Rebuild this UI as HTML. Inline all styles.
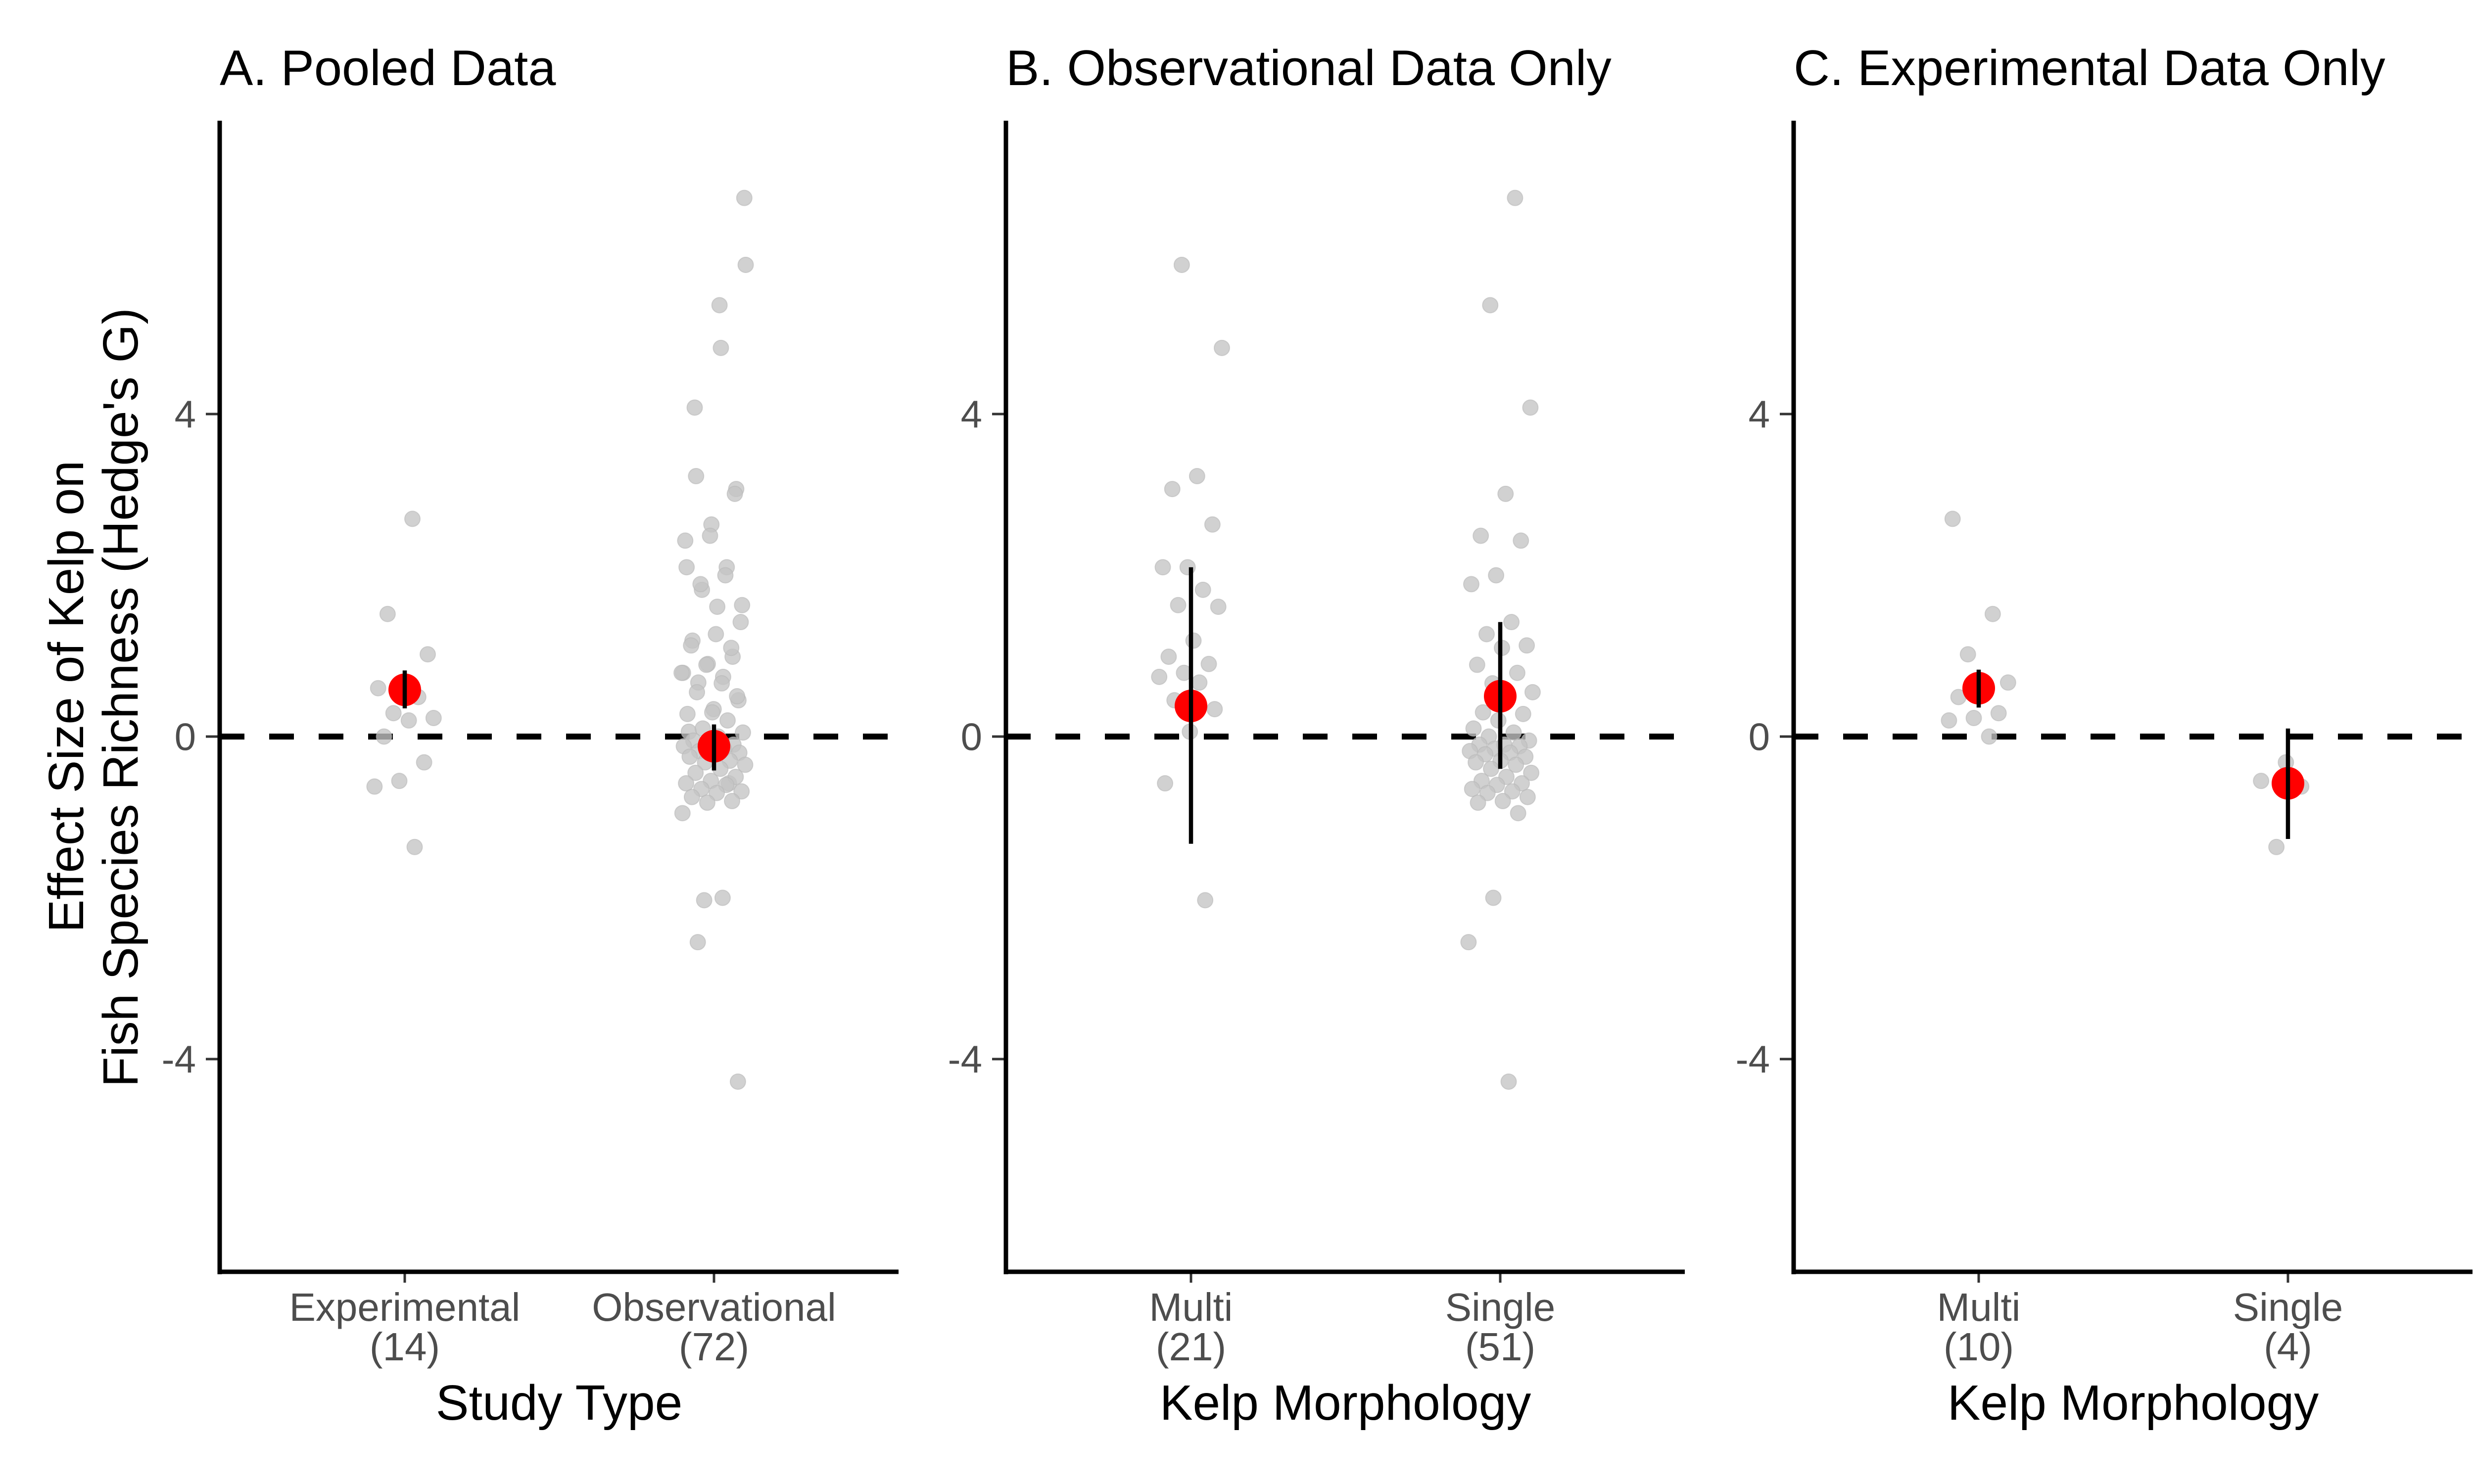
<!DOCTYPE html>
<html><head><meta charset="utf-8">
<style>
html,body{margin:0;padding:0;background:#fff;}
svg{display:block;font-family:"Liberation Sans",Arial,sans-serif;}
</style></head>
<body>
<svg id="chart" width="5100" height="3000" viewBox="0 0 5100 3000" xmlns="http://www.w3.org/2000/svg">
<rect x="0" y="0" width="5100" height="3000" fill="#fff"/>
</svg>
<script>
// ---- data ----
const panelTitles = ["A. Pooled Data", "B. Observational Data Only", "C. Experimental Data Only"];
const panelXTitles = ["Study Type", "Kelp Morphology", "Kelp Morphology"];
const panelCategories = [["Experimental", "Observational"], ["Multi", "Single"], ["Multi", "Single"]];
const panelCounts = [["(14)", "(72)"], ["(21)", "(51)"], ["(10)", "(4)"]];
const obsMulti = [5.85,4.82,3.23,3.07,2.63,2.10,2.10,1.82,1.63,1.61,1.19,0.99,0.90,0.79,0.74,0.67,0.45,0.34,0.06,-0.58,-2.03];
const obsSingle = [6.68,5.35,4.08,3.01,2.49,2.43,2.00,1.89,1.42,1.27,1.13,1.10,0.89,0.79,0.66,0.55,0.50,0.30,0.28,0.20,0.10,0.05,0.00,-0.05,-0.10,-0.10,-0.12,-0.15,-0.18,-0.20,-0.22,-0.25,-0.30,-0.32,-0.35,-0.40,-0.45,-0.50,-0.55,-0.58,-0.60,-0.65,-0.68,-0.70,-0.75,-0.80,-0.82,-0.95,-2.00,-2.55,-4.28];
const expMulti = [2.70,1.52,1.02,0.67,0.60,0.49,0.29,0.23,0.20,0.00];
const expSingle = [-0.32,-0.55,-0.62,-1.37];
const meanA = [0.58, -0.12];
const lowA = [0.35, -0.42];
const highA = [0.82, 0.15];
const meanB = [0.38, 0.50];
const lowB = [-1.33, -0.40];
const highB = [2.10, 1.42];
const meanC = [0.60, -0.58];
const lowC = [0.36, -1.27];
const highC = [0.83, 0.10];
const yTicks = [-4, 0, 4];
const yTickLabels = ["-4", "0", "4"];

// ---- layout ----
const NS = "http://www.w3.org/2000/svg";
const svg = document.getElementById("chart");
const panelX0 = [444, 2033, 3625];
const panelW = 1372;
const axisTop = 244, axisBottom = 2571;
const y0px = 1489, unit = 163;
function yScale(v){ return y0px - v*unit; }
function xScale(p, i){ return panelX0[p] + 374 + i*625; }
function mk(tag, attrs, parent){
  const e = document.createElementNS(NS, tag);
  for (const k in attrs) e.setAttribute(k, attrs[k]);
  (parent||svg).appendChild(e);
  return e;
}
function jit(i, seed){ return ((((i+1)*0.618034 + seed*0.37) % 1) - 0.5) * 2 * 0.105 * 625; }

const groups = [
  [expMulti.concat(expSingle), obsMulti.concat(obsSingle)],
  [obsMulti, obsSingle],
  [expMulti, expSingle]
];
const means = [meanA, meanB, meanC], lows = [lowA, lowB, lowC], highs = [highA, highB, highC];

for (let p = 0; p < 3; p++) {
  const g = mk("g", {});
  
  
  const x0 = panelX0[p];
  const t = mk("text", {x: x0, y: 172, "font-size": 101, fill: "#000"}, g);
  t.textContent = panelTitles[p];
  
  
  for (let k = 0; k < yTicks.length; k++) {
    const yy = yScale(yTicks[k]);
    const tk = mk("line", {x1: x0-28, x2: x0, y1: yy, y2: yy, stroke: "#333", "stroke-width": 5}, g);
    
    
    const tl = mk("text", {x: x0-48, y: yy+27, "font-size": 78, fill: "#4d4d4d", "text-anchor": "end"}, g);
    tl.textContent = yTickLabels[k];
    
    
  }
  const zl = mk("line", {x1: x0, x2: x0+panelW, y1: yScale(0), y2: yScale(0), stroke: "#000", "stroke-width": 12, "stroke-dasharray": "50 50"}, g);
  
  
  for (let c = 0; c < 2; c++) {
    const vals = groups[p][c];
    const cx = xScale(p, c);
    for (let i = 0; i < vals.length; i++) {
      const pt = mk("circle", {cx: cx + jit(i, p*2+c), cy: yScale(vals[i]), r: 15.5, fill: "#c4c4c4", "fill-opacity": 0.78, stroke: "#b8b8b8", "stroke-opacity": 0.6, "stroke-width": 2}, g);
      
      
    }
  }
  for (let c = 0; c < 2; c++) {
    const cx = xScale(p, c);
    const m = mk("circle", {cx: cx, cy: yScale(means[p][c]), r: 33, fill: "#ff0000"}, g);
    
    
    const eb = mk("line", {x1: cx, x2: cx, y1: yScale(lows[p][c]), y2: yScale(highs[p][c]), stroke: "#000", "stroke-width": 8.5}, g);
    
    
    const xt = mk("line", {x1: cx, x2: cx, y1: axisBottom, y2: axisBottom+22, stroke: "#333", "stroke-width": 5}, g);
    
    
    const l1 = mk("text", {x: cx, y: 2670, "font-size": 80, fill: "#4d4d4d", "text-anchor": "middle"}, g);
    l1.textContent = panelCategories[p][c];
    
    
    const l2 = mk("text", {x: cx, y: 2750, "font-size": 80, fill: "#4d4d4d", "text-anchor": "middle"}, g);
    l2.textContent = panelCounts[p][c];
    
    
  }
  const ya = mk("line", {x1: x0, x2: x0, y1: axisTop, y2: axisBottom+5, stroke: "#000", "stroke-width": 9}, g);
  
  
  const xa = mk("line", {x1: x0-4, x2: x0+panelW, y1: axisBottom, y2: axisBottom, stroke: "#000", "stroke-width": 9}, g);
  
  
  const xt = mk("text", {x: x0 + panelW/2, y: 2870, "font-size": 100, fill: "#000", "text-anchor": "middle"}, g);
  xt.textContent = panelXTitles[p];
  
  
}
const yt1 = mk("text", {x: 0, y: 0, "font-size": 100, fill: "#000", "text-anchor": "middle", transform: "translate(168,1408) rotate(-90)"});
yt1.textContent = "Effect Size of Kelp on";


const yt2 = mk("text", {x: 0, y: 0, "font-size": 100, fill: "#000", "text-anchor": "middle", transform: "translate(278,1410) rotate(-90)"});
yt2.textContent = "Fish Species Richness (Hedge's G)";


</script>
</body></html>
